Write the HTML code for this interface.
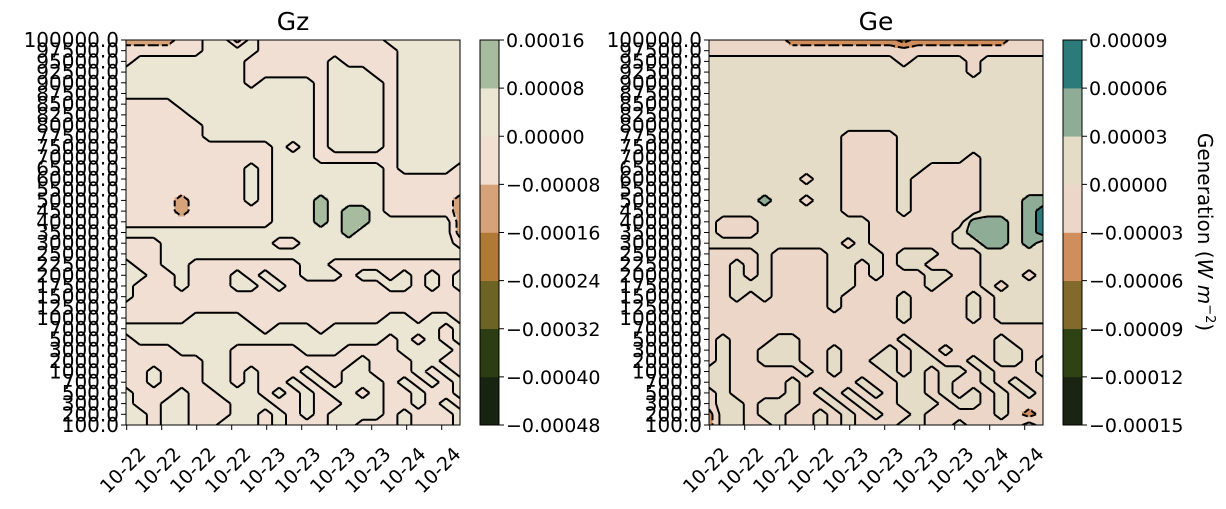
<!DOCTYPE html>
<html><head><meta charset="utf-8"><style>
body{margin:0;background:#fff}
svg{display:block;font-family:"DejaVu Sans","Liberation Sans",sans-serif}
</style></head><body>
<svg id="chart" width="1226" height="509" viewBox="0 0 1226 509" xmlns="http://www.w3.org/2000/svg">
<text x="293" y="30" font-size="25" text-anchor="middle">Gz</text>
<text x="876" y="30" font-size="25" text-anchor="middle">Ge</text>
<text transform="translate(1198,232) rotate(90)" font-size="20" text-anchor="middle">Generation  (<tspan font-style="italic">W m</tspan><tspan font-size="13" dy="-8">−2</tspan><tspan dy="8">)</tspan></text>
</svg>
<script>
const pressureLevels=["100000.0","97500.0","95000.0","92500.0","90000.0","87500.0","85000.0","82500.0","80000.0","77500.0","75000.0","70000.0","65000.0","60000.0","55000.0","50000.0","45000.0","40000.0","35000.0","30000.0","25000.0","22500.0","20000.0","17500.0","15000.0","12500.0","10000.0","7000.0","5000.0","3000.0","2000.0","1000.0","700.0","500.0","300.0","200.0","100.0"];
const timeTickLabels=["10-22","10-22","10-22","10-22","10-23","10-23","10-23","10-23","10-24","10-24"];
const gzEdges=[-0.00048,-0.00040,-0.00032,-0.00024,-0.00016,-0.00008,0,0.00008,0.00016];
const gzTickLabels=["−0.00048","−0.00040","−0.00032","−0.00024","−0.00016","−0.00008","0.00000","0.00008","0.00016"];
const gzColors=["#182412","#2c3d14","#6b6425","#af7a36","#d6a27a","#f2dfd3","#ebe5d3","#a7bb9f"];
const geEdges=[-0.00015,-0.00012,-0.00009,-0.00006,-0.00003,0,0.00003,0.00006,0.00009];
const geTickLabels=["−0.00015","−0.00012","−0.00009","−0.00006","−0.00003","0.00000","0.00003","0.00006","0.00009"];
const geColors=["#1b2412","#2f4214","#826a2c","#cf8e5c","#ecd6c7","#e4dcc6","#8fac97","#2c7a7a"];
const gzCodes={".":-0.00004,"b":0.00004,"g":0.00012,"o":-0.00012,"r":-0.0002};
const geCodes={".":-0.000015,"b":0.000015,"g":0.000045,"t":0.000075,"o":-0.000045,"r":-0.000075};
const gzGrid=[
"oooo..bbob.........bbbbbb",
"......bbbb..........bbbbb",
".bbbbbbbb......b....bbbbb",
"bbbbbbbbb......bbb..bbbbb",
"bbbbbbbbb.bbbb.bbbb.bbbbb",
"bbbbbbbbbbbbbb.bbbb.bbbbb",
"....bbbbbbbbbb.bbbb.bbbbb",
".....bbbbbbbbb.bbbb.bbbbb",
"......bbbbbbbb.bbbb.bbbbb",
"......bbbbbbbb.bbbb.bbbbb",
"...........b.b.bbbb.bbbbb",
"...........bbb......bbbbb",
".........b.bbbbbbbb.bbbb.",
".........b.bbbbbbbb......",
".........b.bbbbbbbb......",
"....o....b.bbbgbbbb.....o",
"....o......bbbgbggb.....o",
"...........bbbgbggbbbbbbo",
"bbbbbbbbbbbbbbbbgbbbbbbbo",
"...bbbbbbbb..bbbbbbbbbbb.",
"...bbbbbbbbbbbbbbbbbbbbbb",
"b..bb........bb..........",
"bb..b...b.b..bbb.bb.b.b.b",
"b...b...bb.b.......bb.b.b",
"b........................",
".........................",
".....bbbb..........bb.bb.",
"bbbbbbbbbb.bbb.bbbbbbbb.b",
".bbbbbbbbbbbbbbbbbb.b.b.b",
"....bbbb.....bbb....bbbb.",
"......bb.........b...bb..",
"..b...bb.b...b..bb...b.b.",
"..b...bb.b..b.b.bbb.b.b.b",
"b...b..bbb.b.b.bb.b..b..b",
"b..bb...bbb..b..bbb..b.b.",
"bb.bb...bb.b.b.bbbb.b...b",
"bb.bb..bbb.b...bb...b...b"];
const geGrid=[
"......oooooooorooooooo...",
".........................",
"bbbbbbbbbbbbbb.bbbb.bbbbb",
"bbbbbbbbbbbbbbbbbbb.bbbbb",
"bbbbbbbbbbbbbbbbbbbbbbbbb",
"bbbbbbbbbbbbbbbbbbbbbbbbb",
"bbbbbbbbbbbbbbbbbbbbbbbbb",
"bbbbbbbbbbbbbbbbbbbbbbbbb",
"bbbbbbbbbbbbbbbbbbbbbbbbb",
"bbbbbbbbbb....bbbbbbbbbbb",
"bbbbbbbbbb....bbbbbbbbbbb",
"bbbbbbbbbb....bbbbb.bbbbb",
"bbbbbbbbbb....bb....bbbbb",
"bbbbbbb.bb....b.....bbbbb",
"bbbbbbbbbb....b.....bbbbb",
"bbbbgbb.bb....b.....bbbgg",
"bbbbbbbbbb....b.....bbbgt",
"b...bbbbbbbb.......gggbgt",
"b...bbbbbbbb......bgggbgt",
"bbbbbbbbbb.b......bbggbgb",
"....b....bbbb.bbb...bbbbb",
"..b.b....bb.b.bb....bbbbb",
"..b.b....bb.b...bb..bbb.b",
"..bbb....bb.....b...b.bbb",
"..b.b....b....b....b.bbbb",
".........b....b....b.bbbb",
"..............b....b.bbbb",
".........................",
".b...bb.......b......b...",
".b..bbb..b...b.b.b...bb..",
".b..bbb..b..bb.bb..b.bb.b",
"bb.....b.b...b.b.bb.b...b",
"bb....b....b..bb.b..b.b..",
".b....b.b.b.b.bb.b.b.b.b.",
".bb.bbb..b.b..bbb.bb.b...",
"obb.bb..b.b.b..b.....b.o.",
"obb..b..b.b...bb..b....b."];

const NS="http://www.w3.org/2000/svg";
const svg=document.getElementById('chart');
function mk(tag,attrs,parent){const e=document.createElementNS(NS,tag);for(const k in attrs)e.setAttribute(k,attrs[k]);(parent||svg).appendChild(e);return e;}

function panel(name,grid,codes,edges,colors,tickLabels,ax,cbx){
  const y0=40,h=385,w=334,nr=pressureLevels.length-1,nc=24;
  const V=grid.map(r=>{const s=(r+".........................").slice(0,25);return s.split('').map(c=>codes[c]!==undefined?codes[c]:codes['.']);});
  const X=j=>ax+j*w/nc, Y=i=>y0+i*h/nr;
  const colorOf=v=>{for(let k=0;k<colors.length;k++){if(v<edges[k+1])return colors[k];}return colors[colors.length-1];};
  const g=mk('g',{},svg);
  
  
  const cid=name+'-clip';
  const cp=mk('clipPath',{id:cid},g);mk('rect',{x:ax,y:y0,width:w,height:h},cp);
  const fill=mk('g',{'clip-path':'url(#'+cid+')','shape-rendering':'crispEdges'},g);
  
  
  const S=4;
  for(let i=0;i<nr;i++)for(let a=0;a<S;a++){
    const t=(a+.5)/S;let runStart=null,runCol=null;
    const flush=(endX)=>{if(runCol===null)return;const r=mk('rect',{x:runStart.toFixed(2),y:(Y(i)+a*h/nr/S).toFixed(2),width:(endX-runStart+0.6).toFixed(2),height:(h/nr/S+0.6).toFixed(2),fill:runCol},fill);
      
      };
    for(let j=0;j<nc;j++)for(let b=0;b<S;b++){
      const u=(b+.5)/S;
      const v=V[i][j]*(1-u)*(1-t)+V[i][j+1]*u*(1-t)+V[i+1][j]*(1-u)*t+V[i+1][j+1]*u*t;
      const c=colorOf(v);const xs=X(j)+b*w/nc/S;
      if(c!==runCol){flush(xs);runStart=xs;runCol=c;}
    }
    flush(ax+w);
  }
  const lines=mk('g',{'clip-path':'url(#'+cid+')',fill:'none',stroke:'#000','stroke-width':2,'stroke-linejoin':'round'},g);
  
  
  for(let k=1;k<edges.length-1;k++){
    const L=edges[k];let d='';
    for(let i=0;i<nr;i++)for(let j=0;j<nc;j++){
      const tl=V[i][j],tr=V[i][j+1],bl=V[i+1][j],br=V[i+1][j+1];const pts=[];
      const cr=(a,b)=>(a<L)!==(b<L);const f=(a,b)=>(L-a)/(b-a);
      if(cr(tl,tr))pts.push([X(j+f(tl,tr)),Y(i)]);
      if(cr(tr,br))pts.push([X(j+1),Y(i+f(tr,br))]);
      if(cr(bl,br))pts.push([X(j+f(bl,br)),Y(i+1)]);
      if(cr(tl,bl))pts.push([X(j),Y(i+f(tl,bl))]);
      for(let p=0;p+1<pts.length;p+=2)d+='M'+pts[p][0].toFixed(1)+' '+pts[p][1].toFixed(1)+'L'+pts[p+1][0].toFixed(1)+' '+pts[p+1][1].toFixed(1);
    }
    if(d){const p=mk('path',{d:d},lines);if(L<0)p.setAttribute('stroke-dasharray','6,3');
      
      }
  }
  const fr=mk('rect',{x:ax,y:y0,width:w,height:h,fill:'none',stroke:'#000','stroke-width':1},g);
  
  
  const ya=mk('g',{'font-size':20,'text-anchor':'end'},g);
  
  
  pressureLevels.forEach((lab,idx)=>{const yy=Y(idx);
    mk('line',{x1:ax-5,x2:ax,y1:yy,y2:yy,stroke:'#000'},ya);
    const t=mk('text',{x:ax-7,y:yy+7},ya);t.textContent=lab;
    
    });
  const xa=mk('g',{'font-size':19,'text-anchor':'middle'},g);
  
  
  timeTickLabels.forEach((lab,k)=>{const xx=ax+0.7+k*35;
    mk('line',{x1:xx,x2:xx,y1:y0+h,y2:y0+h+5,stroke:'#000'},xa);
    const t=mk('text',{transform:'translate('+(xx-4)+','+(y0+h+45)+') rotate(-45)',dy:'0.35em'},xa);t.textContent=lab;
    
    });
  const cb=mk('g',{},g);
  
  
  const bh=h/colors.length;
  colors.forEach((c,k)=>{const r=mk('rect',{x:cbx,y:y0+h-(k+1)*bh,width:19,height:bh+0.3,fill:c},cb);
    
    });
  mk('rect',{x:cbx,y:y0,width:19,height:h,fill:'none',stroke:'#000','stroke-width':1},cb);
  tickLabels.forEach((lab,k)=>{const yy=y0+h-k*bh;
    mk('line',{x1:cbx+19,x2:cbx+24,y1:yy,y2:yy,stroke:'#000'},cb);
    const t=mk('text',{x:cbx+26,y:yy+7,'font-size':19},cb);t.textContent=lab;
    
    });
}
panel('gz',gzGrid,gzCodes,gzEdges,gzColors,gzTickLabels,126,480);
panel('ge',geGrid,geCodes,geEdges,geColors,geTickLabels,709,1063);
</script>
</body></html>
